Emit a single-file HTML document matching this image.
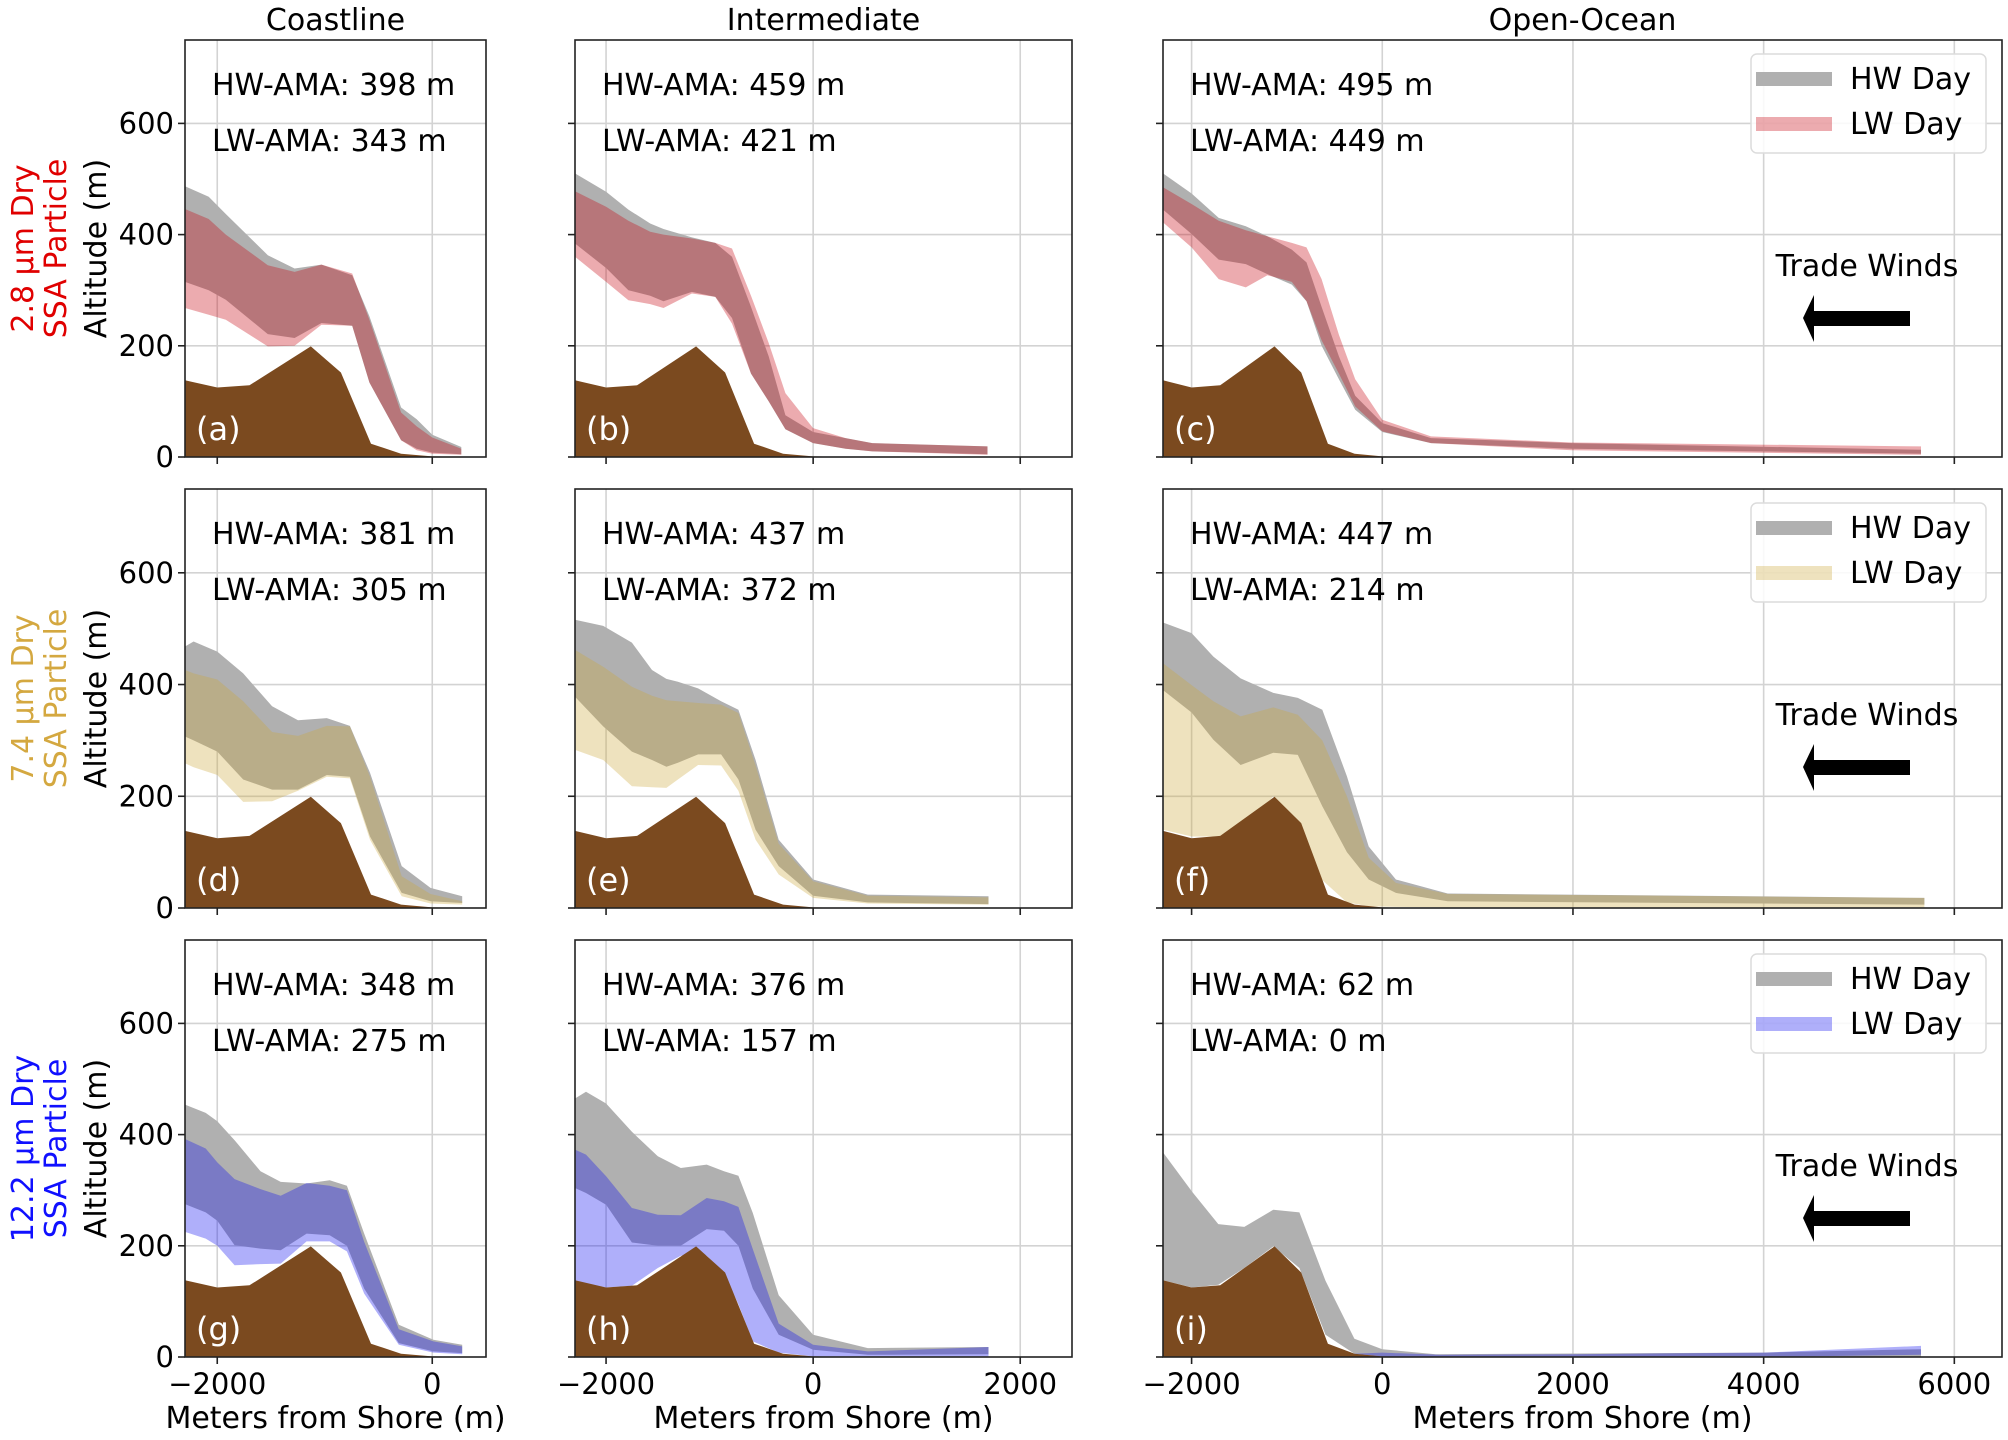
<!DOCTYPE html>
<html><head><meta charset="utf-8">
<style>
html,body{margin:0;padding:0;background:#fff;}
svg{display:block;font-family:"DejaVu Sans","Liberation Sans",sans-serif;}
</style></head>
<body>
<svg id="fig" width="2008" height="1440" viewBox="0 0 2008 1440" xmlns="http://www.w3.org/2000/svg"></svg>
<script>
// ---- data (meters from shore, altitude m) ----
const terrainX = [-2300,-2000,-1700,-1130,-850,-570,-290,0,500];
const terrainY = [138,125,129,199,152,24,6,1,0];

const aX = [-2300,-2080,-1920,-1530,-1280,-1030,-745,-585,-290,-145,0,270];
const aHwHi = [487,468,437,363,339,346,327,253,89,68,40,18];
const aHwLo = [315,300,283,221,214,241,236,134,30,15,8,5];
const aLwHi = [446,428,400,345,333,346,330,247,80,55,35,15];
const aLwLo = [268,256,247,199,200,238,236,134,30,12,6,4];

const bX = [-2300,-2000,-1784,-1574,-1445,-1171,-945,-784,-600,-429,-268,0,313,571,1684];
const bHwHi = [510,477,445,420,410,395,385,360,270,181,75,45,34,25,19];
const bHwLo = [384,340,300,290,280,297,288,250,150,100,50,25,15,10,5];
const bLwHi = [478,450,425,405,400,393,385,375,290,205,115,52,34,25,19];
const bLwLo = [360,315,282,275,268,294,288,240,150,100,50,25,15,10,4];

const cX = [-2300,-2000,-1716,-1432,-1205,-949,-795,-636,-455,-284,0,511,1989,5650];
const cHwHi = [510,474,430,415,397,373,350,270,181,110,61,34,25,13];
const cHwLo = [445,401,355,347,329,310,280,200,140,85,45,25,15,6];
const cLwHi = [485,455,425,408,397,385,377,320,220,140,67,37,26,19];
const cLwLo = [422,377,320,305,327,315,280,210,150,91,46,25,12,4];

const dX = [-2300,-2220,-2000,-1759,-1490,-1249,-981,-766,-579,-284,-16,279];
const dHwHi = [468,477,459,420,361,336,340,326,242,75,36,21];
const dHwLo = [307,300,280,230,212,212,238,235,128,27,12,9];
const dLwHi = [426,420,409,370,315,308,326,325,235,57,25,12];
const dLwLo = [259,252,238,190,191,210,235,232,122,21,8,6];

const eX = [-2300,-2028,-1750,-1556,-1417,-1306,-1111,-889,-722,-556,-333,0,528,1694];
const eHwHi = [516,505,475,426,410,405,393,370,355,265,122,51,24,21];
const eHwLo = [378,325,280,265,253,260,275,275,230,140,75,22,10,7];
const eLwHi = [462,432,396,380,372,370,367,364,349,255,115,48,22,19];
const eLwLo = [283,265,218,216,215,230,256,255,210,122,60,18,8,6];

const fX = [-2300,-2000,-1771,-1486,-1143,-886,-629,-371,-143,143,686,5686];
const fHwHi = [511,492,450,411,385,376,355,236,110,51,26,18];
const fHwLo = [390,350,301,256,278,274,182,100,51,27,12,6];
const fLwHi = [438,399,370,343,359,346,300,200,90,45,25,18];
const fLwLo = [140,128,128,131,200,152,50,10,3,2,1,1];

const gX = [-2300,-2107,-2000,-1839,-1598,-1410,-1169,-954,-794,-633,-311,11,279];
const gHwHi = [454,439,424,390,334,315,312,318,308,222,58,31,22];
const gHwLo = [275,260,245,201,195,192,222,219,200,123,25,10,7];
const gLwHi = [392,375,350,320,302,290,313,308,300,207,50,28,19];
const gLwLo = [225,213,200,165,167,168,208,208,190,114,22,8,5];

const hX = [-2300,-2194,-2000,-1750,-1500,-1278,-1028,-861,-722,-583,-333,0,528,1694];
const hHwHi = [465,477,456,405,361,340,346,334,326,259,111,40,16,18];
const hHwLo = [304,295,274,206,200,200,230,227,200,123,40,13,4,5];
const hLwHi = [373,364,325,268,256,255,286,280,270,194,60,22,10,18];
const hLwLo = [138,132,125,128,160,182,182,152,95,28,8,1,1,1];

const iHwX = [-2300,-1994,-1720,-1447,-1143,-869,-596,-292,0,559,4000,5650];
const iHwHi = [368,297,239,234,265,260,137,33,14,5,8,14];
const iHwLo = [138,125,130,160,199,160,40,6,1,0,0,0];
const iLwX = [-300,0,600,2000,4000,5650];
const iLwHi = [6,8,4,5,8,20];
const iLwLo = [0,0,0,0,0,4];

const hwAma = [398,459,495,381,437,447,348,376,62];
const lwAma = [343,421,449,305,372,214,275,157,0];
const panelLetters = ['a','b','c','d','e','f','g','h','i'];
const colTitles = ['Coastline','Intermediate','Open-Ocean'];
const yTicks = [0,200,400,600];
const xTicksCol = [[-2000,0],[-2000,0,2000],[-2000,0,2000,4000,6000]];
const xLimCol = [[-2300,500],[-2300,2500],[-2300,6500]];
const yMax = 750;

// ---- layout ----
const colL = [185,575,1163], colR = [486,1072,2002];
const rowT = [40,489,940], rowB = [457,908,1357];
const lwColors = ['rgba(197,0,12,0.33)','rgba(203,167,58,0.33)','rgba(12,12,240,0.33)'];
const rowLabelColors = ['#e00000','#d4a840','#1010ff'];
const rowLabels = [['2.8 µm Dry','SSA Particle'],['7.4 µm Dry','SSA Particle'],['12.2 µm Dry','SSA Particle']];
const HW_COLOR = '#b0b0b0', TERRAIN = '#7b4a1f';

const panelData = [
 {hx:aX,hh:aHwHi,hl:aHwLo,lx:aX,lh:aLwHi,ll:aLwLo},
 {hx:bX,hh:bHwHi,hl:bHwLo,lx:bX,lh:bLwHi,ll:bLwLo},
 {hx:cX,hh:cHwHi,hl:cHwLo,lx:cX,lh:cLwHi,ll:cLwLo},
 {hx:dX,hh:dHwHi,hl:dHwLo,lx:dX,lh:dLwHi,ll:dLwLo},
 {hx:eX,hh:eHwHi,hl:eHwLo,lx:eX,lh:eLwHi,ll:eLwLo},
 {hx:fX,hh:fHwHi,hl:fHwLo,lx:fX,lh:fLwHi,ll:fLwLo},
 {hx:gX,hh:gHwHi,hl:gHwLo,lx:gX,lh:gLwHi,ll:gLwLo},
 {hx:hX,hh:hHwHi,hl:hHwLo,lx:hX,lh:hLwHi,ll:hLwLo},
 {hx:iHwX,hh:iHwHi,hl:iHwLo,lx:iLwX,lh:iLwHi,ll:iLwLo}
];

const NS = 'http://www.w3.org/2000/svg';
const svg = document.getElementById('fig');
function mk(tag, attrs, parent){
  const e = document.createElementNS(NS, tag);
  for (const k in attrs) e.setAttribute(k, attrs[k]);
  (parent||svg).appendChild(e);
  return e;
}
function txt(s, attrs, parent){ const t = mk('text', attrs, parent); t.textContent = s; return t; }

for (let r=0;r<3;r++){
  for (let c=0;c<3;c++){
    const idx = r*3+c;
    const L=colL[c], R=colR[c], T=rowT[r], B=rowB[r];
    const [x0,x1] = xLimCol[c];
    const sx = v => L + (v-x0)/(x1-x0)*(R-L);
    const sy = v => B - v/yMax*(B-T);
    const g = mk('g', {});
    
    
    const clipId = 'clip'+idx;
    const cp = mk('clipPath', {id:clipId}, g);
    mk('rect', {x:L,y:T,width:R-L,height:B-T}, cp);
    for (const yt of yTicks){
      if (yt===0) continue;
      const gl = mk('line', {x1:L,x2:R,y1:sy(yt),y2:sy(yt),stroke:'#d3d3d3','stroke-width':1.6}, g);
      
      
    }
    for (const xt of xTicksCol[c]){
      const gl = mk('line', {x1:sx(xt),x2:sx(xt),y1:T,y2:B,stroke:'#d3d3d3','stroke-width':1.6}, g);
      
      
    }
    const dg = mk('g', {'clip-path':'url(#'+clipId+')'}, g);
    const pd = panelData[idx];
    function band(xs, hi, lo, fill, name){
      let d = '';
      for (let k=0;k<xs.length;k++) d += (k?'L':'M')+sx(xs[k]).toFixed(1)+','+sy(hi[k]).toFixed(1);
      for (let k=xs.length-1;k>=0;k--) d += 'L'+sx(xs[k]).toFixed(1)+','+sy(lo[k]).toFixed(1);
      const p = mk('path', {d:d+'Z', fill:fill}, dg);
      
      
    }
    band(pd.hx, pd.hh, pd.hl, HW_COLOR, 'hw-day-band');
    band(pd.lx, pd.lh, pd.ll, lwColors[r], 'lw-day-band');
    let td = 'M'+sx(terrainX[0])+','+sy(0);
    for (let k=0;k<terrainX.length;k++) td += 'L'+sx(terrainX[k]).toFixed(1)+','+sy(terrainY[k]).toFixed(1);
    td += 'L'+sx(terrainX[terrainX.length-1])+','+sy(0)+'Z';
    const tp = mk('path', {d:td, fill:TERRAIN}, dg);
    
    
    const fr = mk('rect', {x:L,y:T,width:R-L,height:B-T,fill:'none',stroke:'#222','stroke-width':1.6}, g);
    
    
    for (const yt of yTicks){
      mk('line', {x1:L-7,x2:L,y1:sy(yt),y2:sy(yt),stroke:'#222','stroke-width':1.6}, g);
      if (c===0){
        const tl = txt(String(yt), {x:L-11,y:sy(yt)+10,'text-anchor':'end','font-size':29,fill:'#000'}, g);
        
        
      }
    }
    for (const xt of xTicksCol[c]){
      mk('line', {x1:sx(xt),x2:sx(xt),y1:B,y2:B+7,stroke:'#222','stroke-width':1.6}, g);
      if (r===2){
        const lab = xt<0 ? '\u2212'+Math.abs(xt) : String(xt);
        const tl = txt(lab, {x:sx(xt),y:B+37,'text-anchor':'middle','font-size':29,fill:'#000'}, g);
        
        
      }
    }
    const h1 = txt('HW-AMA: '+hwAma[idx]+' m', {x:L+27,y:T+55,'font-size':30,fill:'#000'}, g);
    
    
    const l1 = txt('LW-AMA: '+lwAma[idx]+' m', {x:L+27,y:T+111,'font-size':30,fill:'#000'}, g);
    
    
    const pl = txt('('+panelLetters[idx]+')', {x:L+11,y:B-17,'font-size':32,fill:'#fff'}, g);
    
    
    if (r===0){
      const ct = txt(colTitles[c], {x:(L+R)/2,y:30,'text-anchor':'middle','font-size':30,fill:'#000'}, g);
      
      
    }
    if (r===2){
      const xl = txt('Meters from Shore (m)', {x:(L+R)/2,y:1428,'text-anchor':'middle','font-size':30,fill:'#000'}, g);
      
      
    }
    if (c===0){
      const cy = (T+B)/2;
      const yl = txt('Altitude (m)', {x:0,y:0,'text-anchor':'middle','font-size':30,fill:'#000',transform:'translate(106,'+cy+') rotate(-90)'}, g);
      
      
      const rl1 = txt(rowLabels[r][0], {x:0,y:0,'text-anchor':'middle','font-size':30,fill:rowLabelColors[r],transform:'translate(33,'+cy+') rotate(-90)'}, g);
      
      
      const rl2 = txt(rowLabels[r][1], {x:0,y:0,'text-anchor':'middle','font-size':30,fill:rowLabelColors[r],transform:'translate(66,'+cy+') rotate(-90)'}, g);
      
      
    }
    if (c===2){
      const lg = mk('g', {}, g);
      
      
      mk('rect', {x:1751,y:T+14,width:235,height:99,rx:6,fill:'rgba(255,255,255,0.85)',stroke:'#dcdcdc','stroke-width':1.5}, lg);
      const p1 = mk('rect', {x:1756,y:T+32,width:76,height:14,fill:HW_COLOR}, lg);
      
      
      const p2 = mk('rect', {x:1756,y:T+77,width:76,height:14,fill:lwColors[r]}, lg);
      
      
      const t1 = txt('HW Day', {x:1850,y:T+49,'font-size':30,fill:'#000'}, lg);
      
      
      const t2 = txt('LW Day', {x:1850,y:T+94,'font-size':30,fill:'#000'}, lg);
      
      
      const tw = txt('Trade Winds', {x:1867,y:T+236,'text-anchor':'middle','font-size':30,fill:'#000'}, g);
      
      
      const ar = mk('path', {d:'M1803,'+(T+278)+' L1814,'+(T+255)+' L1814,'+(T+271)+' L1910,'+(T+271)+' L1910,'+(T+286)+' L1814,'+(T+286)+' L1814,'+(T+302)+' Z', fill:'#000'}, g);
      
      
    }
  }
}
</script>
</body></html>
